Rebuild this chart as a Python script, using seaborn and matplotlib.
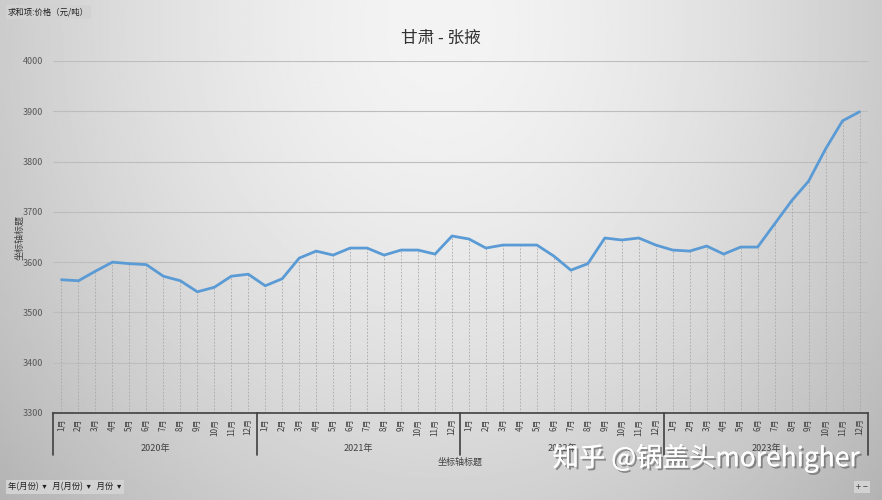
import numpy as np
import pandas as pd
import matplotlib.pyplot as plt
import matplotlib.patheffects as pe
import seaborn as sns

# data (price, yuan/ton)
years = ['2020年', '2021年', '2022年', '2023年']
months = ['1月', '2月', '3月', '4月', '5月', '6月', '7月', '8月', '9月', '10月', '11月', '12月']
price_2020 = [3565, 3563, 3582, 3600, 3597, 3595, 3572, 3563, 3541, 3550, 3572, 3576]
price_2021 = [3553, 3567, 3608, 3622, 3614, 3628, 3628, 3614, 3624, 3624, 3616, 3652]
price_2022 = [3646, 3628, 3634, 3634, 3634, 3612, 3584, 3597, 3648, 3644, 3648, 3634]
price_2023 = [3624, 3622, 3632, 3616, 3630, 3630, 3676, 3722, 3761, 3825, 3881, 3899]
y_ticks = [3300, 3400, 3500, 3600, 3700, 3800, 3900, 4000]

prices = price_2020 + price_2021 + price_2022 + price_2023
df = pd.DataFrame({
    'pos': np.arange(len(prices)),
    'year': np.repeat(years, len(months)),
    'month': months * len(years),
    'price': prices,
})

sns.set_style('white')
plt.rcParams['font.family'] = ['Noto Sans CJK SC', 'DejaVu Sans']

fig = plt.figure(figsize=(8.82, 5), dpi=100)

# gradient background like the Excel chart area
bg = fig.add_axes([0, 0, 1, 1], zorder=-10)
gx, gy = np.meshgrid(np.linspace(-1, 1, 400), np.linspace(0, 1, 300))
r = np.sqrt((gx * 0.95) ** 2 + ((gy - 0.05) * 0.9) ** 2)
shade = np.clip(0.955 - 0.17 * r ** 1.6, 0, 1)
bg.imshow(shade, cmap='gray', vmin=0, vmax=1, aspect='auto', extent=[0, 1, 0, 1], origin='upper')
bg.axis('off')

ax = fig.add_axes([53 / 882, 1 - 413 / 500, 815 / 882, 352 / 500])
ax.patch.set_alpha(0)

# drop lines
ax.vlines(df['pos'], 3300, df['price'], colors='#a8a8a8', linestyles=(0, (2, 2)), linewidth=0.6, zorder=1)
sns.lineplot(data=df, x='pos', y='price', ax=ax, color='#5b9bd5', linewidth=2.0, zorder=3)

ax.set_ylim(3300, 4000)
ax.set_xlim(-0.5, len(prices) - 0.5)
ax.set_yticks(y_ticks)
ax.set_yticklabels([str(t) for t in y_ticks], fontsize=6.5, color='#595959')
for t in y_ticks[1:]:
    ax.axhline(t, color='#bdbdbd', linewidth=0.8, zorder=0)
for s in ['top', 'right', 'left']:
    ax.spines[s].set_visible(False)
ax.spines['bottom'].set_color('#404040')
ax.spines['bottom'].set_linewidth(1.2)
ax.tick_params(axis='y', length=0, pad=7)
ax.set_xticks(df['pos'])
ax.set_xticklabels(df['month'], rotation=90, fontsize=5.8, color='#404040', va='top', ha='center')
ax.tick_params(axis='x', length=0, pad=4)
ax.set_xlabel('')
ax.set_ylabel('')

# category group brackets
tr = ax.get_xaxis_transform()
n = len(months)
for i in range(len(years) + 1):
    ax.plot([i * n - 0.5, i * n - 0.5], [0, -0.12], transform=tr, color='#404040', linewidth=1.2, clip_on=False)
for i, yr in enumerate(years):
    ax.text(i * n + (n - 1) / 2, -0.1, yr, transform=tr, ha='center', va='center', fontsize=6.5, color='#404040')

fig.text(0.5 * (53 + 868) / 882, 1 - 462 / 500, '坐标轴标题', ha='center', va='center', fontsize=6.5, color='#404040')
fig.text(20 / 882, 1 - 237 / 500, '坐标轴标题', rotation=90, ha='center', va='center', fontsize=6.5, color='#404040')
fig.text(441 / 882, 1 - 38 / 500, '甘肃 - 张掖', ha='center', va='center', fontsize=12, color='#333333', fontweight='medium')

# pivot field buttons
fig.text(8 / 882, 1 - 12 / 500, '求和项:价格（元/吨）', ha='left', va='center', fontsize=6, color='#202020',
         bbox=dict(boxstyle='square,pad=0.25', facecolor='#d2d2d2', edgecolor='none'))
fig.text(8 / 882, 1 - 487 / 500, '年(月份)  ▾   月(月份)  ▾   月份  ▾', ha='left', va='center', fontsize=6,
         color='#202020', bbox=dict(boxstyle='square,pad=0.3', facecolor='#d2d2d2', edgecolor='none'))
fig.text(862 / 882, 1 - 487 / 500, '+ −', ha='center', va='center', fontsize=6.5, color='#404040',
         bbox=dict(boxstyle='square,pad=0.2', facecolor='#d2d2d2', edgecolor='none'))

# watermark
fig.text(706 / 882, 1 - 458 / 500, '知乎 @锅盖头morehigher', ha='center', va='center', fontsize=19, color='white',
         path_effects=[pe.withSimplePatchShadow(offset=(1.5, -1.5), shadow_rgbFace='#555555', alpha=0.6), pe.Normal()])

fig.savefig('out.png', dpi=100)
